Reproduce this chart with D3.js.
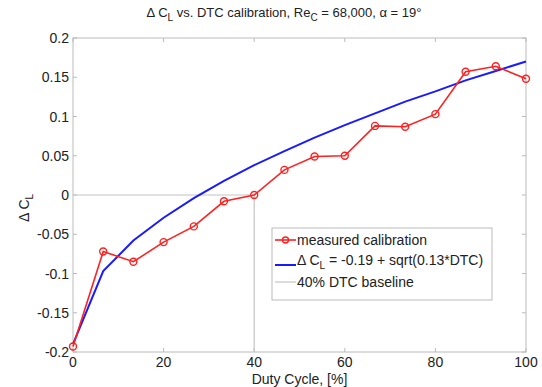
<!DOCTYPE html>
<html>
<head>
<meta charset="utf-8">
<script src="https://cdn.jsdelivr.net/npm/d3@7"></script>
<style>
  body { margin: 0; background: #fff; }
  text { font-family: "Liberation Sans", Arial, sans-serif; fill: #222; }
</style>
</head>
<body>
<svg id="chart"></svg>
<script>
const dutyCycle = [0, 6.67, 13.33, 20, 26.67, 33.33, 40, 46.67, 53.33, 60, 66.67, 73.33, 80, 86.67, 93.33, 100];
const measured = [-0.193, -0.072, -0.085, -0.06, -0.04, -0.008, 0, 0.032, 0.049, 0.05, 0.088, 0.087, 0.103, 0.157, 0.164, 0.148];
const fitted = [-0.19, -0.097, -0.058, -0.029, -0.004, 0.018, 0.038, 0.056, 0.073, 0.089, 0.104, 0.119, 0.132, 0.146, 0.158, 0.17];
const baselineX = [0, 40, 40];
const baselineY = [0, 0, -0.2];
const xTicks = [0, 20, 40, 60, 80, 100];
const yTicks = [-0.2, -0.15, -0.1, -0.05, 0, 0.05, 0.1, 0.15, 0.2];
const legendLabels = ['measured calibration', 'fit', '40% DTC baseline'];

const width = 542;
const height = 387;
const margin = { top: 38, right: 16, bottom: 35, left: 73 };
const fs = 14;

const svg = d3.select('#chart')
  .attr('width', width)
  .attr('height', height);

const x = d3.scaleLinear()
  .domain([0, 100])
  .range([margin.left, width - margin.right]);

const y = d3.scaleLinear()
  .domain([-0.2, 0.2])
  .range([height - margin.bottom, margin.top]);

const axisColor = '#bbb';

// axes box
svg.append('rect')
  .attr('x', x(0))
  .attr('y', y(0.2))
  .attr('width', x(100) - x(0))
  .attr('height', y(-0.2) - y(0.2))
  .attr('fill', 'none')
  .attr('stroke', axisColor)
  .attr('stroke-width', 1);

// ticks, pointing inward on all four sides
const tickLen = 4;
const tickG = svg.append('g').attr('stroke', axisColor);
xTicks.forEach(t => {
  tickG.append('line').attr('x1', x(t)).attr('x2', x(t)).attr('y1', y(-0.2)).attr('y2', y(-0.2) - tickLen);
  tickG.append('line').attr('x1', x(t)).attr('x2', x(t)).attr('y1', y(0.2)).attr('y2', y(0.2) + tickLen);
});
yTicks.forEach(t => {
  tickG.append('line').attr('x1', x(0)).attr('x2', x(0) + tickLen).attr('y1', y(t)).attr('y2', y(t));
  tickG.append('line').attr('x1', x(100)).attr('x2', x(100) - tickLen).attr('y1', y(t)).attr('y2', y(t));
});

// tick labels
svg.append('g').selectAll('text')
  .data(xTicks)
  .enter()
  .append('text')
  .attr('x', d => x(d))
  .attr('y', y(-0.2) + 15)
  .attr('text-anchor', 'middle')
  .attr('font-size', fs)
  .text(d => d);

svg.append('g').selectAll('text')
  .data(yTicks)
  .enter()
  .append('text')
  .attr('x', x(0) - 4)
  .attr('y', d => y(d) + 5)
  .attr('text-anchor', 'end')
  .attr('font-size', fs)
  .text(d => +d.toFixed(2));

// baseline (gray)
const line = d3.line()
  .x(d => x(d[0]))
  .y(d => y(d[1]));

svg.append('path')
  .datum(baselineX.map((v, i) => [v, baselineY[i]]))
  .attr('d', line)
  .attr('fill', 'none')
  .attr('stroke', '#c4c4c4')
  .attr('stroke-width', 1.2);

// fitted curve (blue)
svg.append('path')
  .datum(dutyCycle.map((v, i) => [v, fitted[i]]))
  .attr('d', line)
  .attr('fill', 'none')
  .attr('stroke', '#1a1aff')
  .attr('stroke-width', 2);

// measured (red)
svg.append('path')
  .datum(dutyCycle.map((v, i) => [v, measured[i]]))
  .attr('d', line)
  .attr('fill', 'none')
  .attr('stroke', '#ff2020')
  .attr('stroke-width', 1.6);

svg.append('g').selectAll('circle')
  .data(dutyCycle.map((v, i) => [v, measured[i]]))
  .enter()
  .append('circle')
  .attr('cx', d => x(d[0]))
  .attr('cy', d => y(d[1]))
  .attr('r', 3.5)
  .attr('fill', 'none')
  .attr('stroke', '#ff2020')
  .attr('stroke-width', 1.4);

// title
const title = svg.append('text')
  .attr('x', 284)
  .attr('y', 17)
  .attr('text-anchor', 'middle')
  .attr('font-size', 13);
title.append('tspan').text('\u0394 C');
title.append('tspan').attr('font-size', 10).attr('dy', 4).text('L');
title.append('tspan').attr('dy', -4).text(' vs. DTC calibration, Re');
title.append('tspan').attr('font-size', 10).attr('dy', 4).text('C');
title.append('tspan').attr('dy', -4).text(' = 68,000, \u03b1 = 19\u00b0');

// x label
svg.append('text')
  .attr('x', x(50))
  .attr('y', height - 3)
  .attr('text-anchor', 'middle')
  .attr('font-size', fs)
  .text('Duty Cycle, [%]');

// y label
const yl = svg.append('text')
  .attr('transform', `translate(29, ${y(0) + 13}) rotate(-90)`)
  .attr('text-anchor', 'middle')
  .attr('font-size', fs);
yl.append('tspan').text('\u0394 C');
yl.append('tspan').attr('font-size', 10).attr('dy', 4).text('L');

// legend
const legend = svg.append('g').attr('transform', 'translate(272, 228)');
legend.append('rect')
  .attr('width', 220)
  .attr('height', 72)
  .attr('fill', '#fff')
  .attr('stroke', '#bbb');

const rows = [
  { color: '#ff2020', y: 12, marker: true },
  { color: '#1a1aff', y: 37, marker: false },
  { color: '#c4c4c4', y: 54, marker: false }
];
rows.forEach((r, i) => {
  legend.append('line')
    .attr('x1', 3).attr('x2', 24)
    .attr('y1', r.y).attr('y2', r.y)
    .attr('stroke', r.color)
    .attr('stroke-width', i === 0 ? 1.6 : (i === 1 ? 2 : 1.2));
  if (r.marker) {
    legend.append('circle')
      .attr('cx', 13.5).attr('cy', r.y).attr('r', 3)
      .attr('fill', 'none').attr('stroke', r.color).attr('stroke-width', 1.4);
  }
});

legend.append('text').attr('x', 25).attr('y', 17).attr('font-size', fs).text(legendLabels[0]);
const lt = legend.append('text').attr('x', 25).attr('y', 37).attr('font-size', fs);
lt.append('tspan').text('\u0394 C');
lt.append('tspan').attr('font-size', 10).attr('dy', 4).text('L');
lt.append('tspan').attr('dy', -4).text(' = -0.19 + sqrt(0.13*DTC)');
legend.append('text').attr('x', 25).attr('y', 59).attr('font-size', fs).text(legendLabels[2]);
</script>
</body>
</html>
